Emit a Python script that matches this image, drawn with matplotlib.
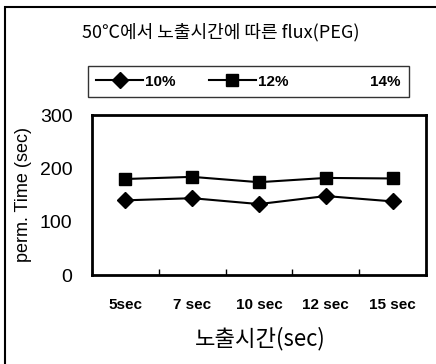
import numpy as np
import matplotlib.pyplot as plt
from matplotlib.lines import Line2D
from matplotlib.patches import Rectangle

plt.rcParams['font.family'] = ['Liberation Sans', 'Noto Sans CJK KR', 'DejaVu Sans']

categories = ['5sec', '7 sec', '10 sec', '12 sec', '15 sec']
peg10 = [140, 144, 133, 148, 138]
peg12 = [180, 184, 174, 182, 181]
series_names = ['10%', '12%', '14%']

fig = plt.figure(figsize=(4.36, 3.64), dpi=100)
ax = fig.add_axes([92 / 436, 1 - 275 / 364, 334 / 436, 160 / 364])

x = np.arange(len(categories))
ax.plot(x, peg10, color='black', marker='D', markersize=8, linewidth=1.5)
ax.plot(x, peg12, color='black', marker='s', markersize=9, linewidth=1.5)

ax.set_xlim(-0.5, len(categories) - 0.5)
ax.set_ylim(0, 300)
ax.set_yticks([0, 100, 200, 300])
ax.set_xticks(np.arange(len(categories) + 1) - 0.5)
ax.set_xticklabels([])
ax.tick_params(axis='x', direction='in', length=4, width=1)
ax.tick_params(axis='y', length=0, labelsize=14, pad=14)
for xi, lab in zip(x, categories):
    ax.text(xi, -0.19, lab, transform=ax.get_xaxis_transform(), ha='center',
            va='center', fontsize=11, fontweight='bold')
for sp in ax.spines.values():
    sp.set_linewidth(2)

ax.set_ylabel('perm. Time (sec)', fontsize=13, labelpad=6)
fig.text(260 / 436, 1 - 339 / 364, '노출시간(sec)', ha='center', va='center',
         fontsize=16, family=['Noto Sans CJK KR', 'DejaVu Sans'])
fig.text(221 / 436, 1 - 32 / 364, '50℃에서 노출시간에 따른 flux(PEG)', ha='center',
         va='center', fontsize=13, family=['Noto Sans CJK KR', 'DejaVu Sans'])

handles = [
    Line2D([], [], color='black', marker='D', markersize=8, linewidth=1.5),
    Line2D([], [], color='black', marker='s', markersize=9, linewidth=1.5),
    Line2D([], [], color='none'),
]
fig.legend(handles, series_names, loc='center', ncol=3, mode='expand',
           bbox_to_anchor=(80 / 436, 1 - 95 / 364, 337 / 436, 27 / 364),
           frameon=True, fancybox=False, edgecolor='black', handlelength=3.1,
           handletextpad=0.1, borderpad=0.55,
           prop={'weight': 'bold', 'size': 11})

fig.add_artist(Rectangle((5 / 436, -0.1), 1.2, 1 - 7 / 364 + 0.1,
                         transform=fig.transFigure, fill=False,
                         edgecolor='black', linewidth=1.5))

fig.savefig('out.png', dpi=100)
